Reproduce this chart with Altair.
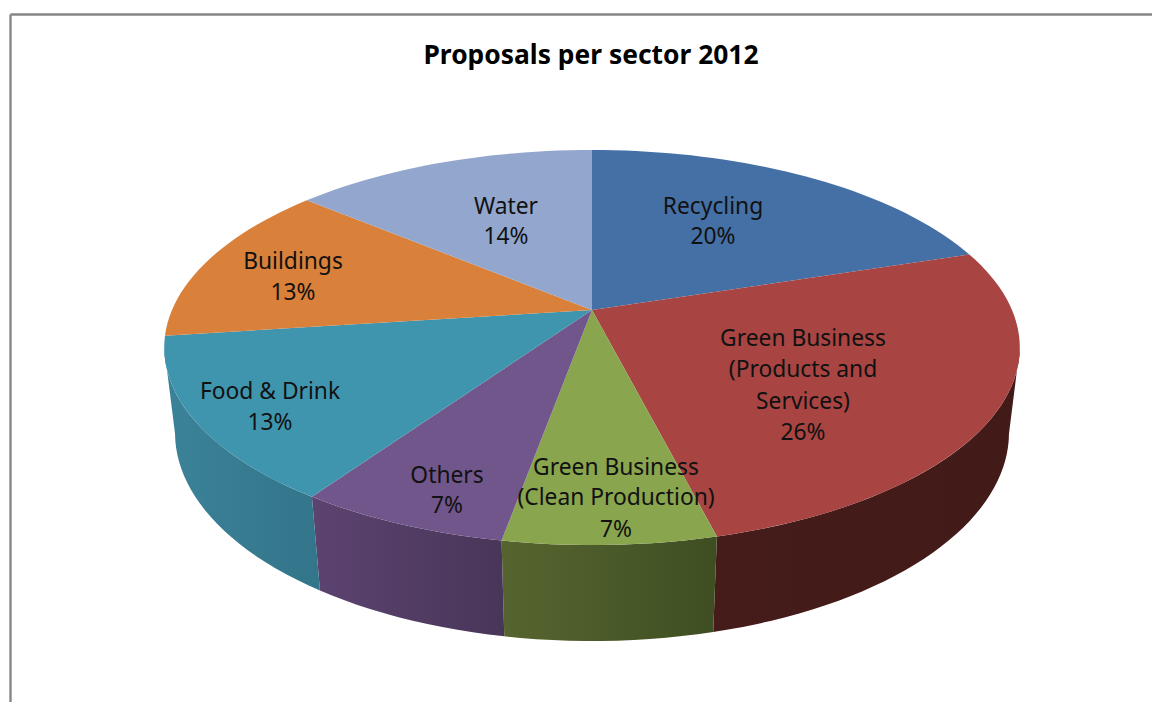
import math
import altair as alt
import pandas as pd

TITLE = "Proposals per sector 2012"
SECTORS = ["Recycling", "Green Business (Products and Services)", "Green Business (Clean Production)",
           "Others", "Food & Drink", "Buildings", "Water"]
SHARES = [20, 26.1, 6.7, 6.7, 13.4, 13.3, 13.8]
TOP_COLORS = ["#4570a6", "#a84442", "#89a54e", "#71568c", "#4095ae", "#d9803b", "#93a7ce"]
WALL_COLORS = [None, ("#451c1a", "#421a18"), ("#56652f", "#3f4e22"), ("#5c4370", "#483658"),
               ("#3b8298", "#33758a"), None, None]
LABEL_LINES = [
    ["Recycling", "20%"],
    ["Green Business", "(Products and", "Services)", "26%"],
    ["Green Business", "(Clean Production)", "7%"],
    ["Others", "7%"],
    ["Food & Drink", "13%"],
    ["Buildings", "13%"],
    ["Water", "14%"],
]
LABEL_X = [713, 803, 616, 447, 270, 293, 506]
LABEL_Y = [[207, 237], [339, 370, 402, 433], [468, 498, 530], [476, 506], [392, 423], [262, 293], [207, 237]]

CX, CY = 592.0, 310.0
A, B, K, H, DK = 420.0, 190.4, 0.19, 86.0, 0.025
VISIBLE_FROM, VISIBLE_TO = 101.0, 259.0
PAGE_W, PAGE_H = 1152, 702


def top(deg):
    u, v = math.sin(math.radians(deg)), math.cos(math.radians(deg))
    d = 1 + K * v
    return CX + A * u / d, CY - B * v / d


def bottom(deg):
    u, v = math.sin(math.radians(deg)), math.cos(math.radians(deg))
    d = 1 + K * v + DK
    return CX + A * u / d, CY - (B * v - H) / d


def angles(a, b):
    n = max(2, int((b - a) / 1.8))
    return [a + (b - a) * i / n for i in range(n + 1)]


edges = [0.0]
for s in SHARES:
    edges.append(edges[-1] + s * 3.6)

x_scale = alt.Scale(domain=[8, PAGE_W], range=[0, PAGE_W - 8], nice=False, zero=False)
y_scale = alt.Scale(domain=[8, PAGE_H], range=[0, PAGE_H - 8], nice=False, zero=False)


def polygon(points, fill):
    df = pd.DataFrame([{"x": p[0], "y": p[1], "o": i} for i, p in enumerate(points)])
    return alt.Chart(df).mark_line(filled=True, fill=fill, strokeWidth=0, clip=False).encode(
        x=alt.X("x:Q", scale=x_scale, axis=None),
        y=alt.Y("y:Q", scale=y_scale, axis=None),
        order=alt.Order("o:Q"),
    )


layers = []

# outer frame
frame = pd.DataFrame({"x": [10.5], "x2": [PAGE_W], "y": [14.5], "y2": [PAGE_H]})
layers.append(alt.Chart(frame).mark_rule(color="#868686", strokeWidth=2.4).encode(
    x=alt.X("x:Q", scale=x_scale, axis=None), x2="x2:Q", y=alt.Y("y:Q", scale=y_scale, axis=None)))
layers.append(alt.Chart(frame).mark_rule(color="#868686", strokeWidth=2.4).encode(
    x=alt.X("x:Q", scale=x_scale, axis=None), y=alt.Y("y:Q", scale=y_scale, axis=None), y2="y2:Q"))

# side walls (only the part facing the viewer)
for i, colors in enumerate(WALL_COLORS):
    if colors is None:
        continue
    arc = angles(max(edges[i], VISIBLE_FROM), min(edges[i + 1], VISIBLE_TO))
    pts = [top(d) for d in arc] + [bottom(d) for d in reversed(arc)]
    grad = alt.Gradient(gradient="linear", x1=0, y1=0, x2=1, y2=0,
                        stops=[alt.GradientStop(offset=0, color=colors[0]),
                               alt.GradientStop(offset=1, color=colors[1])])
    layers.append(polygon(pts, grad))

# top face
for i, col in enumerate(TOP_COLORS):
    pts = [(CX, CY)] + [top(d) for d in angles(edges[i], edges[i + 1])]
    layers.append(polygon(pts, col))

# labels
rows = []
for lines, lx, ys in zip(LABEL_LINES, LABEL_X, LABEL_Y):
    for t, ly in zip(lines, ys):
        rows.append({"t": t, "x": lx, "y": ly})
layers.append(alt.Chart(pd.DataFrame(rows)).mark_text(
    font="Noto Sans", fontSize=22.8, color="#111111", align="center", baseline="middle").encode(
    x=alt.X("x:Q", scale=x_scale, axis=None), y=alt.Y("y:Q", scale=y_scale, axis=None), text="t:N"))

layers.append(alt.Chart(pd.DataFrame({"t": [TITLE], "x": [591], "y": [56]})).mark_text(
    font="Noto Sans", fontSize=26.4, fontWeight="bold", color="#000000", align="center", baseline="middle").encode(
    x=alt.X("x:Q", scale=x_scale, axis=None), y=alt.Y("y:Q", scale=y_scale, axis=None), text="t:N"))

chart = alt.layer(*layers).properties(
    width=PAGE_W - 8, height=PAGE_H - 8, padding=0, autosize=alt.AutoSizeParams(type="none"),
    background="#ffffff",
).configure_view(stroke=None)

chart.save("out.html", embed_options={"renderer": "svg", "actions": False})
